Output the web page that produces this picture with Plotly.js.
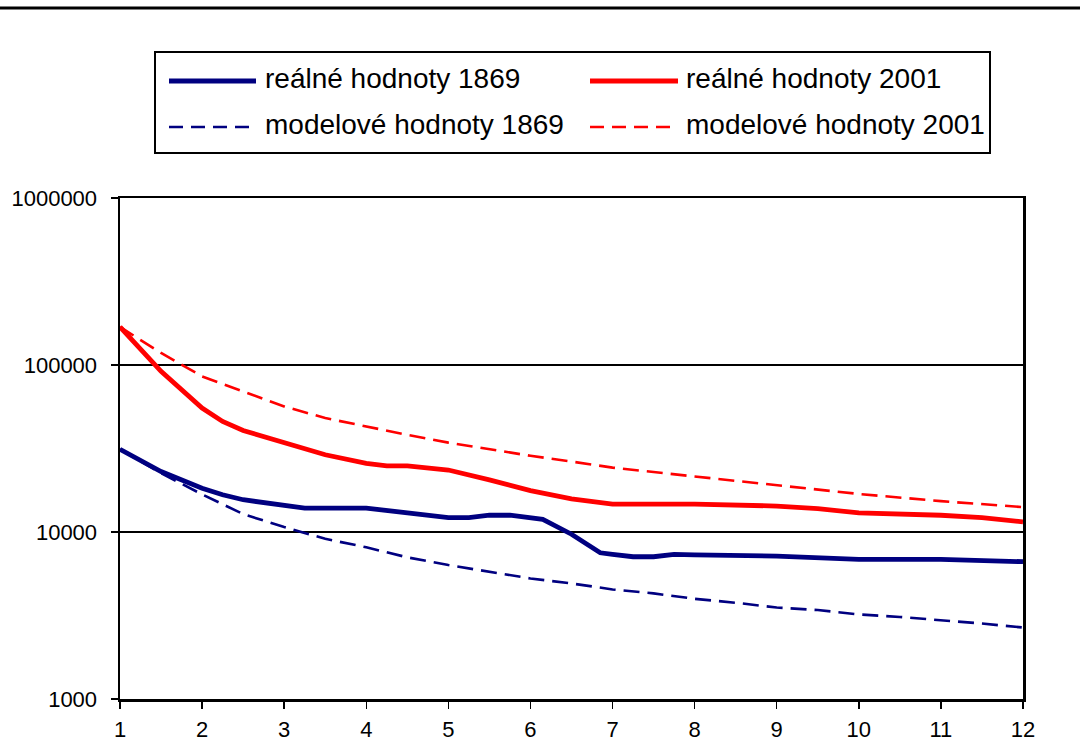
<!DOCTYPE html>
<html>
<head>
<meta charset="utf-8">
<script src="https://cdn.plot.ly/plotly-3.0.1.min.js"></script>
<style>
  html, body { margin: 0; padding: 0; background: #ffffff; }
  #chart { width: 1080px; height: 756px; }
</style>
</head>
<body>
<div id="chart"></div>
<script>
// ---- data ----
const seriesNames = ["reálné hodnoty 1869", "reálné hodnoty 2001", "modelové hodnoty 1869", "modelové hodnoty 2001"];

const real1869X = [1, 1.5, 2, 2.25, 2.5, 3, 3.25, 4, 4.5, 5, 5.25, 5.5, 5.75, 6, 6.15, 6.5, 6.85, 7, 7.25, 7.5, 7.75, 8, 9, 10, 11, 12];
const real1869Y = [31300, 23000, 18300, 16700, 15600, 14300, 13900, 13900, 13100, 12200, 12200, 12600, 12600, 12200, 11900, 9700, 7510, 7350, 7110, 7110, 7350, 7300, 7180, 6860, 6860, 6640];

const real2001X = [1, 1.5, 2, 2.25, 2.5, 3, 3.5, 4, 4.25, 4.5, 5, 5.5, 6, 6.5, 7, 8, 9, 9.5, 10, 11, 11.5, 12];
const real2001Y = [169000, 91600, 55200, 45900, 40500, 34000, 29000, 25800, 24900, 24900, 23500, 20500, 17700, 15800, 14700, 14700, 14300, 13800, 13000, 12600, 12200, 11500];

const model1869X = [1, 1.5, 2, 2.5, 3, 3.5, 4, 4.5, 5, 5.5, 6, 6.5, 7, 7.5, 8, 8.5, 9, 9.5, 10, 10.5, 11, 11.5, 12];
const model1869Y = [31300, 22500, 16800, 12800, 10700, 9100, 8100, 7050, 6340, 5780, 5270, 4920, 4530, 4290, 3980, 3770, 3530, 3410, 3210, 3100, 2970, 2830, 2680];

const model2001X = [1, 1.5, 2, 2.5, 3, 3.5, 4, 4.5, 5, 5.5, 6, 6.5, 7, 8, 9, 10, 11, 12];
const model2001Y = [169000, 118000, 85500, 69500, 56500, 48100, 42800, 38200, 34300, 31300, 28600, 26400, 24300, 21500, 19100, 16900, 15300, 14100];

const xTicks = [1, 2, 3, 4, 5, 6, 7, 8, 9, 10, 11, 12];
const yTicks = [1000, 10000, 100000, 1000000];
const yTickLabels = ["1000", "10000", "100000", "1000000"];

// ---- styles ----
const NAVY = "#000080";
const RED = "#FF0000";
const FONT = "Liberation Sans, Arial, sans-serif";

const traces = [
  { x: model1869X, y: model1869Y, name: seriesNames[2], mode: "lines",
    line: { color: NAVY, width: 2.6, dash: "16px,8px" } },
  { x: model2001X, y: model2001Y, name: seriesNames[3], mode: "lines",
    line: { color: RED, width: 2.6, dash: "16px,8px" } },
  { x: real1869X, y: real1869Y, name: seriesNames[0], mode: "lines",
    line: { color: NAVY, width: 4.8 } },
  { x: real2001X, y: real2001Y, name: seriesNames[1], mode: "lines",
    line: { color: RED, width: 4.8 } }
];

// plot area in pixels: x 120..1023, y 198..699
const L = 120, R = 1023, T = 198, B = 699;
const W = R - L, H = B - T;
const px = v => (v - L) / W;
const py = v => (B - v) / H;

// custom legend (box, line samples, labels)
const legendItems = [
  { label: seriesNames[0], color: NAVY, dash: "solid", w: 4.8, x0: 169, x1: 256, tx: 263, y: 81 },
  { label: seriesNames[1], color: RED, dash: "solid", w: 4.8, x0: 590, x1: 678, tx: 684, y: 81 },
  { label: seriesNames[2], color: NAVY, dash: "14px,8px", w: 2.6, x0: 169, x1: 256, tx: 263, y: 127 },
  { label: seriesNames[3], color: RED, dash: "14px,8px", w: 2.6, x0: 590, x1: 678, tx: 684, y: 127 }
];

const shapes = [
  // top border line of the chart
  { type: "line", xref: "paper", yref: "paper", x0: px(0), x1: px(1080), y0: py(8), y1: py(8),
    line: { color: "#000", width: 3 } },
  // legend box
  { type: "rect", xref: "paper", yref: "paper", x0: px(155), x1: px(990), y0: py(153), y1: py(52),
    line: { color: "#000", width: 2 }, fillcolor: "rgba(0,0,0,0)" }
];
const annotations = [];
legendItems.forEach(it => {
  shapes.push({ type: "line", xref: "paper", yref: "paper", x0: px(it.x0), x1: px(it.x1), y0: py(it.y), y1: py(it.y),
    line: { color: it.color, width: it.w, dash: it.dash } });
  annotations.push({ xref: "paper", yref: "paper", x: px(it.tx), y: py(it.y - 2), text: it.label,
    showarrow: false, xanchor: "left", yanchor: "middle",
    font: { family: FONT, size: 28, color: "#000" } });
});

const layout = {
  width: 1080, height: 756,
  margin: { l: L, r: 1080 - R, t: T, b: 756 - B, pad: 0 },
  paper_bgcolor: "#ffffff",
  plot_bgcolor: "#ffffff",
  showlegend: false,
  font: { family: FONT, size: 22, color: "#000" },
  xaxis: {
    type: "linear", range: [1, 12], tickmode: "array", tickvals: xTicks,
    ticktext: xTicks.map(String),
    showgrid: false, zeroline: false,
    showline: true, mirror: true, linecolor: "#000", linewidth: 2.5,
    ticks: "outside", ticklen: 7, tickwidth: 1.5, tickcolor: "#000",
    ticklabelstandoff: 2,
    tickfont: { family: FONT, size: 22, color: "#000" }
  },
  yaxis: {
    type: "log", range: [3, 6], tickmode: "array", tickvals: yTicks, ticktext: yTickLabels,
    showgrid: true, gridcolor: "#000", gridwidth: 2,
    zeroline: false,
    showline: true, mirror: true, linecolor: "#000", linewidth: 2.5,
    ticks: "outside", ticklen: 7, tickwidth: 1.5, tickcolor: "#000",
    ticklabelstandoff: 9,
    tickfont: { family: FONT, size: 22, color: "#000" }
  },
  shapes: shapes,
  annotations: annotations
};

Plotly.newPlot("chart", traces, layout, { displayModeBar: false, staticPlot: true });
</script>
</body>
</html>
